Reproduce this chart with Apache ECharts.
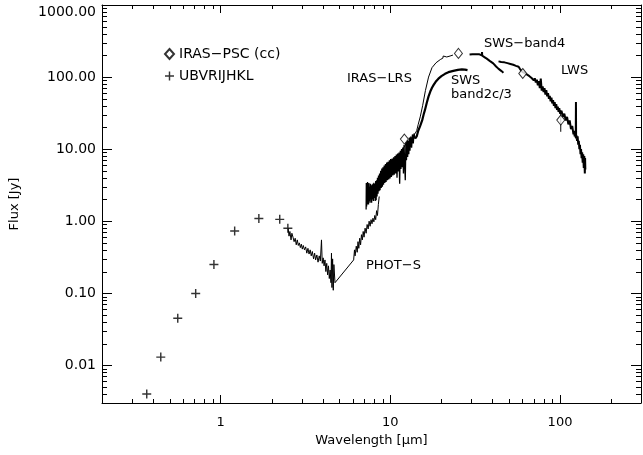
<!DOCTYPE html>
<html>
<head>
<meta charset="utf-8">
<script src="https://cdn.jsdelivr.net/npm/echarts/dist/echarts.min.js"></script>
<style>
html,body{margin:0;padding:0;background:#fff;}
#chart{width:643px;height:455px;}
</style>
</head>
<body>
<div id="chart"></div>
<script>
// ---------------- data ----------------
const xMajorTicks = [1, 10, 100];
const xTickLabels = ['1', '10', '100'];
const yMajorTicks = [0.01, 0.1, 1, 10, 100, 1000];
const yTickLabels = ['0.01', '0.10', '1.00', '10.00', '100.00', '1000.00'];
const xMinorTicks = [0.3,0.4,0.5,0.6,0.7,0.8,0.9,2,3,4,5,6,7,8,9,20,30,40,50,60,70,80,90,200];
const yMinorTicks = [0.004,0.005,0.006,0.007,0.008,0.009,0.02,0.03,0.04,0.05,0.06,0.07,0.08,0.09,
  0.2,0.3,0.4,0.5,0.6,0.7,0.8,0.9,2,3,4,5,6,7,8,9,20,30,40,50,60,70,80,90,200,300,400,500,600,700,800,900];

// UBVRIJHKL photometry [wavelength um, flux Jy]
const ubvrijhkl = [[0.367,0.0040],[0.444,0.013],[0.559,0.045],[0.713,0.099],[0.913,0.25],
  [1.21,0.73],[1.68,1.09],[2.23,1.06],[2.49,0.80]];
// IRAS PSC colour-corrected
const irasPsc = [[12.1,13.8],[25.2,213],[60.3,112],[101,25.3]];
const irasErr100 = [[101,17.4],[101,34.8]];

// ISO PHOT-S
const photS = [[2.50,0.80],[2.53,0.62],[2.56,0.72],[2.60,0.55],[2.63,0.68],[2.67,0.60],[2.71,0.52],[2.75,0.58],
  [2.79,0.47],[2.83,0.55],[2.87,0.46],[2.91,0.50],[2.95,0.43],[2.99,0.48],[3.03,0.41],[3.07,0.46],[3.12,0.40],
  [3.17,0.44],[3.22,0.36],[3.27,0.42],[3.32,0.35],[3.37,0.40],[3.42,0.33],[3.47,0.38],[3.53,0.30],[3.58,0.36],
  [3.63,0.29],[3.69,0.34],[3.75,0.27],[3.81,0.33],[3.87,0.28],[3.93,0.55],[3.97,0.26],[4.02,0.31],[4.07,0.24],
  [4.12,0.29],[4.17,0.20],[4.22,0.26],[4.27,0.18],[4.32,0.24],[4.37,0.16],[4.42,0.21],[4.47,0.14],[4.50,0.36],
  [4.53,0.12],[4.57,0.30],[4.61,0.11],[4.65,0.25],[4.72,0.14],[6.08,0.29],[6.15,0.40],[6.20,0.33],[6.30,0.45],
  [6.38,0.37],[6.45,0.52],[6.52,0.42],[6.60,0.58],[6.68,0.47],[6.76,0.65],[6.84,0.55],[6.92,0.72],[7.00,0.60],
  [7.10,0.80],[7.20,0.68],[7.30,0.90],[7.40,0.78],[7.50,1.00],[7.60,0.85],[7.70,1.05],[7.80,0.92],[7.90,1.10],
  [8.00,0.98],[8.10,1.20],[8.20,1.05],[8.30,1.40],[8.40,1.20],[8.50,1.70],[8.60,2.20]];

// ISO SWS bands 1/2 (noisy part)
const swsShort = [[7.20,1.45],[7.22,3.4],[7.25,1.6],[7.28,3.1],[7.31,1.7],[7.34,3.5],[7.37,1.9],[7.40,3.2],
  [7.44,1.7],[7.48,3.4],[7.52,1.9],[7.56,3.0],[7.60,1.8],[7.64,3.3],[7.68,2.0],[7.72,3.1],[7.76,1.8],[7.80,3.2],
  [7.85,2.0],[7.90,3.3],[7.95,1.9],[8.00,3.4],[8.05,2.1],[8.10,3.3],[8.15,1.9],[8.20,3.6],[8.25,1.95],[8.30,3.7],
  [8.35,2.2],[8.40,4.0],[8.46,2.4],[8.52,4.3],[8.58,2.6],[8.64,4.6],[8.70,2.7],[8.77,5.0],[8.84,2.9],[8.91,5.4],
  [8.98,3.0],[9.05,5.6],[9.12,3.2],[9.20,5.9],[9.28,3.4],[9.36,6.2],[9.44,3.5],[9.52,6.5],[9.60,3.7],[9.69,6.7],
  [9.78,3.8],[9.87,7.0],[9.96,3.9],[10.05,7.3],[10.15,4.1],[10.25,7.4],[10.35,4.3],[10.45,7.7],[10.55,4.4],
  [10.65,8.0],[10.75,4.6],[10.85,8.4],[10.95,4.0],[11.05,8.7],[11.15,4.9],[11.25,9.0],[11.35,3.3],[11.45,9.5],
  [11.55,5.3],[11.65,10.0],[11.75,5.6],[11.85,10.5],[11.95,4.6],[12.05,11.5],[12.15,6.2],[12.25,3.7],[12.35,12.5],
  [12.45,7.0],[12.55,13.5],[12.65,7.8],[12.75,13.0],[12.85,8.5],[12.95,14.5],[13.05,9.5],[13.20,15.0],
  [13.35,10.5],[13.50,16.0],[13.65,12.0],[13.80,16.5],[14.00,14.0]];
// ISO SWS band 2c/3 (smooth part)
const swsBand2c3 = [[14.0,14.0],[14.3,15],[14.6,18],[15.0,21],[15.4,25],[15.7,30],[16.0,35],[16.4,44],
  [16.8,54],[17.2,63],[17.6,71],[18.0,78],[18.5,86],[19.2,95],[20.0,103],[21.0,111],[22.0,117],[23.5,122],
  [25.0,126],[26.4,128],[27.5,127],[28.5,125]];
// IRAS LRS
const irasLrs = [[11.6,9.5],[12.0,10.5],[12.4,12],[12.8,13],[13.2,13.5],[13.6,15],[14.0,16.5],[14.3,18],
  [14.6,22],[15.0,28],[15.5,40],[16.1,65],[16.8,100],[17.6,135],[18.6,158],[19.7,175],[20.4,183],[20.5,196],
  [20.6,184],[21.5,190],[22.5,196],[23.4,202]];
// ISO SWS band 4
const swsBand4 = [[29.3,205],[30.5,207],[32.0,208],[33.5,207],[34.6,200],[34.7,222],[34.8,198],[36.0,188],
  [37.0,180],[38.5,168],[40.4,155],[42.0,140],[43.3,131],[45.0,122],[46.4,115]];
// ISO LWS
const lws = [[43.4,165],[44,158],[45,162],[46,155],[47,160],[48,152],[49,156],[50,148],[51,152],[52,144],
  [53,148],[54,140],[55,143],[56,135],[57,139],[58,130],[59,127],[60,118],[61,122],[62,113],[63,117],[64,108],
  [65,112],[66,103],[67,107],[68,97],[69,103],[70,90],[71,96],[72,84],[73,92],[74,77],[75,88],[76,70],[77,95],
  [78,65],[79,74],[80,62],[81,70],[82,57],[83,66],[84,54],[85,60],[86,50],[87,55],[88,46],[89,52],[90,43],
  [91,48],[92,40],[93,45],[94,37],[95,42],[96,35],[97,39],[98,33],[99,37],[100,31],[102,34],[104,28],[106,31],
  [108,25],[110,28],[112,22],[114,25],[116,19],[118,21],[120,16],[121,18],[122,15],[123,16],[123.8,14.5],
  [124.1,45],[124.4,14],[125,15.5],[126,13],[127,15],[128,11.5],[129,13],[130,10],[131,11.5],[132,8.5],
  [133,10],[134,7.5],[135,9],[136,6.5],[137,8.5],[138,5.5],[139,8],[140,4.6],[140.5,7.5],[141,5.2]];

const annotations = [
  {text: 'PHOT−S', left: 366, top: 259},
  {text: 'IRAS−LRS', left: 347, top: 72},
  {text: 'SWS', left: 451, top: 74},
  {text: 'band2c/3', left: 451, top: 88},
  {text: 'SWS−band4', left: 484, top: 37},
  {text: 'LWS', left: 561, top: 64}
];

// ---------------- chart ----------------
const FONT = 'DejaVu Sans';
const chart = echarts.init(document.getElementById('chart'), null, {renderer: 'canvas'});

function labelFor(v, ticks, labels) {
  for (let i = 0; i < ticks.length; i++) {
    if (Math.abs(Math.log10(v) - Math.log10(ticks[i])) < 1e-6) return labels[i];
  }
  return '';
}

function minorXRender(params, api) {
  const cs = params.coordSys;
  const x = Math.round(api.coord([api.value(0), 1])[0]) + 0.5;
  const yb = cs.y + cs.height, yt = cs.y;
  return {type: 'group', children: [
    {type: 'line', shape: {x1: x, y1: yb, x2: x, y2: yb - 4}, style: {stroke: '#000', lineWidth: 1}},
    {type: 'line', shape: {x1: x, y1: yt, x2: x, y2: yt + 4}, style: {stroke: '#000', lineWidth: 1}}
  ]};
}
function minorYRender(params, api) {
  const cs = params.coordSys;
  const y = Math.round(api.coord([1, api.value(1)])[1]) + 0.5;
  const xl = cs.x, xr = cs.x + cs.width;
  return {type: 'group', children: [
    {type: 'line', shape: {x1: xl, y1: y, x2: xl + 5, y2: y}, style: {stroke: '#000', lineWidth: 1}},
    {type: 'line', shape: {x1: xr, y1: y, x2: xr - 5, y2: y}, style: {stroke: '#000', lineWidth: 1}}
  ]};
}

const axisCommon = {
  type: 'log', logBase: 10,
  axisLine: {show: true, onZero: false, lineStyle: {color: '#000', width: 1}},
  splitLine: {show: false},
  minorTick: {show: false},
  minorSplitLine: {show: false}
};

const plusPath = 'path://M4.2,0H5.8V4.2H10V5.8H5.8V10H4.2V5.8H0V4.2H4.2Z';

function lineSeries(name, data, width) {
  return {name: name, type: 'line', data: data, showSymbol: false, symbol: 'none',
    lineStyle: {color: '#000', width: width}, itemStyle: {color: '#000'},
    silent: true, z: 3, animation: false};
}

const option = {
  animation: false,
  backgroundColor: '#fff',
  textStyle: {fontFamily: FONT, color: '#000'},
  grid: {left: 102, right: 2, top: 5, bottom: 52, containLabel: false, outerBoundsMode: 'none'},
  legend: {
    show: true, orient: 'vertical', left: 164, top: 47, padding: 0,
    itemWidth: 9, itemHeight: 10, itemGap: 8, itemTextGap: 18,
    textStyle: {fontFamily: FONT, fontSize: 14, color: '#000'},
    data: ['IRAS−PSC (cc)', 'UBVRIJHKL'],
    selectedMode: false
  },
  xAxis: [
    Object.assign({}, axisCommon, {
      position: 'bottom', min: 0.2, max: 300,
      axisTick: {show: true, inside: true, length: 8, lineStyle: {color: '#000'}},
      axisLabel: {show: true, margin: 13, color: '#000', fontFamily: FONT, fontSize: 13,
        showMinLabel: false, showMaxLabel: false,
        formatter: v => labelFor(v, xMajorTicks, xTickLabels)},
      name: 'Wavelength [μm]', nameLocation: 'middle', nameGap: 26,
      nameTextStyle: {fontFamily: FONT, fontSize: 13, color: '#000'}
    }),
    Object.assign({}, axisCommon, {
      position: 'top', min: 0.2, max: 300,
      axisTick: {show: true, inside: true, length: 8, lineStyle: {color: '#000'}},
      axisLabel: {show: false}
    })
  ],
  yAxis: [
    Object.assign({}, axisCommon, {
      position: 'left', min: 0.003, max: 1000,
      axisTick: {show: true, inside: true, length: 10, lineStyle: {color: '#000'}},
      axisLabel: {show: true, margin: 6, color: '#000', fontFamily: FONT, fontSize: 14,
        showMinLabel: false, showMaxLabel: true, verticalAlignMaxLabel: 'top',
        formatter: v => labelFor(v, yMajorTicks, yTickLabels)},
      name: 'Flux [Jy]', nameLocation: 'middle', nameGap: 81, nameRotate: 90,
      nameTextStyle: {fontFamily: FONT, fontSize: 13, color: '#000'}
    }),
    Object.assign({}, axisCommon, {
      position: 'right', min: 0.003, max: 1000,
      axisTick: {show: true, inside: true, length: 10, lineStyle: {color: '#000'}},
      axisLabel: {show: false}
    })
  ],
  graphic: annotations.map(a => ({
    type: 'text', left: a.left, top: a.top, silent: true,
    style: {text: a.text, fill: '#000', font: '13px "' + FONT + '"'}
  })),
  series: [
    {type: 'custom', name: 'xminor', data: xMinorTicks.map(v => [v, 1]), renderItem: minorXRender,
      clip: false, silent: true, z: 1},
    {type: 'custom', name: 'yminor', data: yMinorTicks.map(v => [1, v]), renderItem: minorYRender,
      clip: false, silent: true, z: 1},
    lineSeries('PHOT-S', photS, 1),
    lineSeries('SWS short', swsShort, 1.3),
    lineSeries('SWS band2c/3', swsBand2c3, 2.2),
    lineSeries('IRAS-LRS', irasLrs, 1),
    lineSeries('SWS-band4', swsBand4, 2),
    lineSeries('LWS', lws, 2),
    lineSeries('err100', irasErr100, 1),
    {name: 'IRAS−PSC (cc)', type: 'scatter', data: irasPsc, symbol: 'diamond', symbolSize: [8, 10],
      itemStyle: {color: '#fff', borderColor: '#000', borderWidth: 1}, z: 5, silent: true},
    {name: 'UBVRIJHKL', type: 'scatter', data: ubvrijhkl, symbol: plusPath, symbolSize: 9,
      itemStyle: {color: '#000'}, z: 5, silent: true}
  ]
};
chart.setOption(option);
</script>
</body>
</html>
